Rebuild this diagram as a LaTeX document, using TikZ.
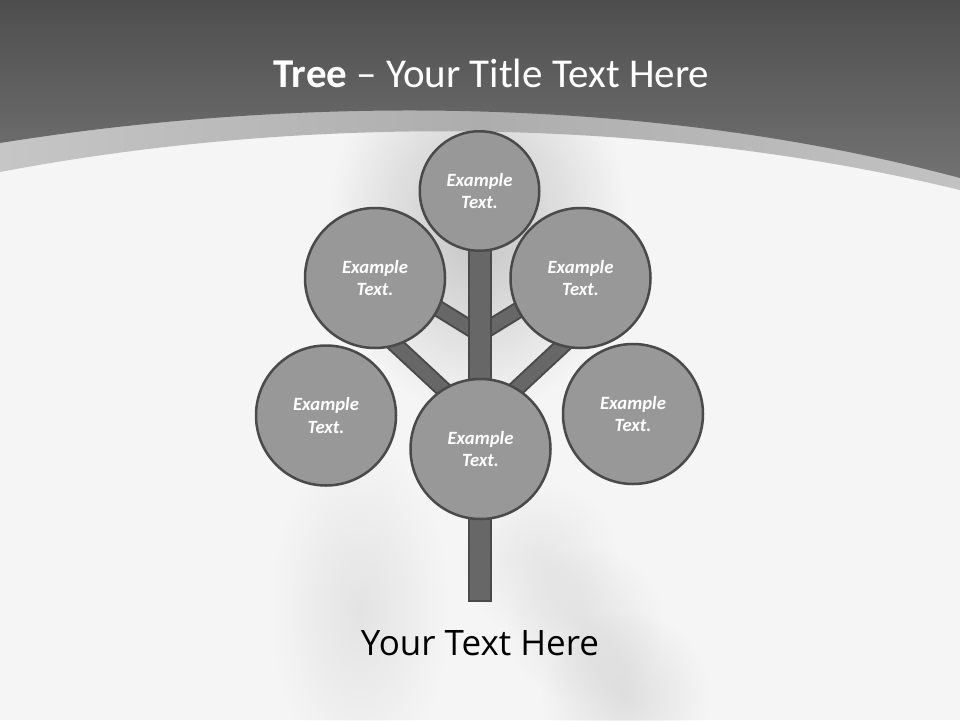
\documentclass[tikz,border=0pt]{standalone}
\usepackage{fontspec}
\setmainfont{Carlito}
\newfontfamily\bodyfont{Open Sans}
\usetikzlibrary{fadings}
\definecolor{hdtop}{HTML}{4E4E4E}
\definecolor{hdbot}{HTML}{727272}
\definecolor{bandl}{HTML}{C6C6C6}
\definecolor{bandm}{HTML}{ADADAD}
\definecolor{bandr}{HTML}{C2C2C2}
\definecolor{bgc}{HTML}{F5F5F5}
\definecolor{leaffill}{HTML}{989898}
\definecolor{edgec}{HTML}{4A4A4A}
\definecolor{woodc}{HTML}{676767}
\tikzfading[name=softblob, inner color=transparent!0, outer color=transparent!100]
\begin{document}
\begin{tikzpicture}[x=1pt,y=-1pt,
  leaf/.style={circle, draw=edgec, line width=2.5pt, fill=leaffill, minimum size=140pt, inner sep=0pt,
    text=white, align=center, font=\fontsize{18.7}{22.4}\selectfont\bfseries\itshape},
  branch/.style={draw=edgec, line width=2pt, double=woodc, double distance=13pt},
  trunkbox/.style={draw=edgec, line width=2pt, fill=woodc},
  blob/.style={fill=black, path fading=softblob}
]
\useasboundingbox (0,0) rectangle (960,720);
\fill[bgc] (0,0) rectangle (960,720);
% soft shadows
\fill[blob, opacity=0.20] (478,225) ellipse [x radius=150, y radius=190];
\fill[blob, opacity=0.07] (360,610) ellipse [x radius=90, y radius=170];
\fill[blob, opacity=0.06] (540,560) circle [radius=80];
\fill[blob, opacity=0.07] (585,625) circle [radius=80];
\fill[blob, opacity=0.09] (625,695) circle [radius=85];
% band and header
\shade[left color=bandl, right color=bandr, middle color=bandm]
  (0,0) -- (0,172) .. controls (300,115) and (650,115) .. (960,190) -- (960,0) -- cycle;
\shade[top color=hdtop, bottom color=hdbot]
  (0,0) -- (0,143) .. controls (300,95) and (650,95) .. (960,178) -- (960,0) -- cycle;
% branch coordinates
\coordinate (sl1) at (400,285);
\coordinate (sl2) at (479.5,334);
\coordinate (sr1) at (559,285);
\coordinate (sr2) at (479.5,334);
\coordinate (ll1) at (370,321);
\coordinate (ll2) at (479.5,423);
\coordinate (lr1) at (589,321);
\coordinate (lr2) at (479.5,423);
\coordinate (ttop) at (468.5,245);
\coordinate (tbot) at (490.5,601);
% branches
\draw[branch] (sl1) -- (sl2);
\draw[branch] (sr1) -- (sr2);
\draw[branch] (ll1) -- (ll2);
\draw[branch] (lr1) -- (lr2);
% trunk
\draw[trunkbox] (ttop) rectangle (tbot);
% leaves
\node[leaf, minimum size=119.5pt] (top) at (479.5,191) {Example\\Text.};
\node[leaf] (ul) at (375,278) {Example\\Text.};
\node[leaf] (ur) at (580.5,278) {Example\\Text.};
\node[leaf] (ll) at (326,415.5) {Example\\Text.};
\node[leaf] (lr) at (633,414) {Example\\Text.};
\node[leaf] (cc) at (480.5,449) {Example\\Text.};
% texts
\node[anchor=base, text=white, inner sep=0pt, font=\fontsize{41}{49}\selectfont] (title) at (491.5,87)
  {\textbf{Tree} – Your Title Text Here};
\node[anchor=base, text=black, inner sep=0pt, font=\bodyfont\fontsize{35}{42}\selectfont] (caption) at (480,655)
  {Your Text Here};
\end{tikzpicture}
\end{document}
